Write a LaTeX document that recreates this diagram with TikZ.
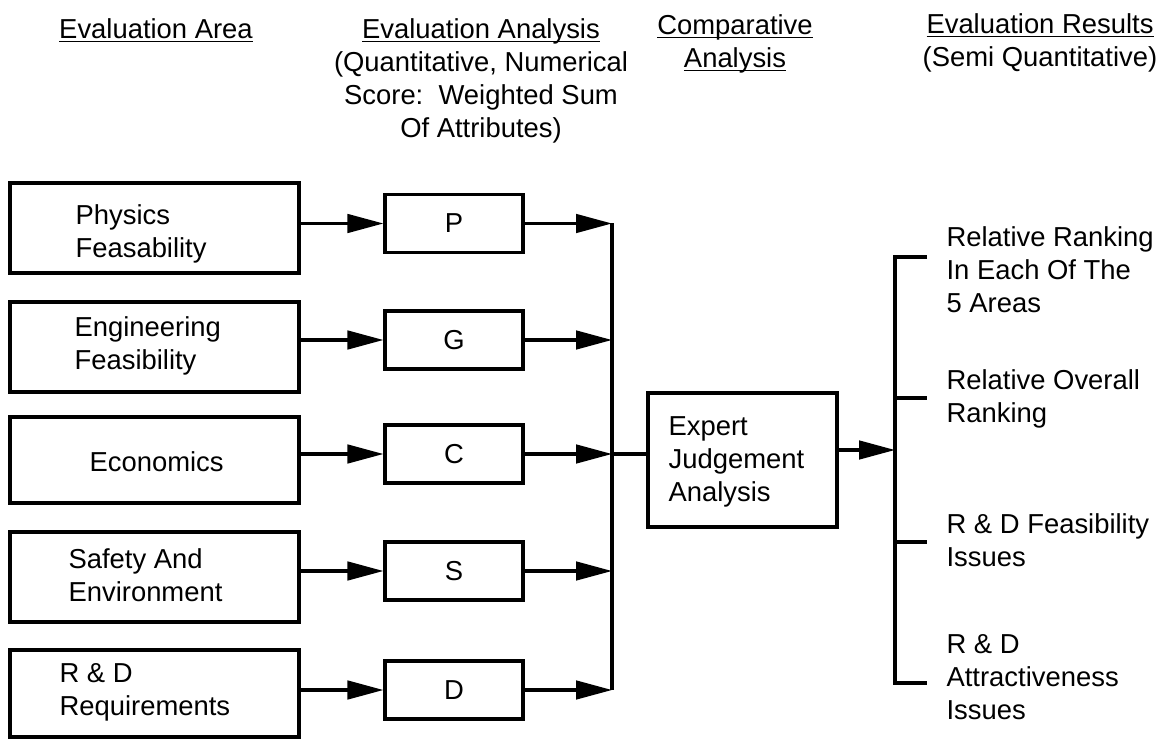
\documentclass[tikz,border=0pt]{standalone}
\usepackage{fontspec}
\setmainfont{Liberation Sans}
\usetikzlibrary{arrows.meta}
\newcommand{\headul}[1]{\underline{\smash{#1}\vphantom{E}}}

\begin{document}
\begin{tikzpicture}[x=0.02cm,y=-0.02cm,line width=1.8pt,
  font=\fontsize{15.6pt}{18.8pt}\selectfont,
  areabox/.style={draw,rectangle,minimum width=5.78cm,minimum height=1.8cm,inner sep=0pt},
  anabox/.style={draw,rectangle,minimum width=2.76cm,minimum height=1.16cm,inner sep=0pt},
  txt/.style={inner sep=0pt,align=left,anchor=north west},
  head/.style={inner sep=0pt,align=center,anchor=north},
  arr/.style={-{Triangle[length=0.72cm,width=0.37cm]}}]
\useasboundingbox (0,0) rectangle (1165,739);

% column headers
\node[head] (hArea) at (156,18) {\headul{Evaluation Area}};
\node[head] (hAnal) at (481,18) {\headul{Evaluation Analysis}\\(Quantitative, Numerical\\Score:\ \ Weighted Sum\\Of Attributes)};
\node[head] (hComp) at (735,14) {\headul{Comparative}\\\headul{Analysis}};
\node[head] (hRes) at (1040,13) {\headul{Evaluation Results}\\(Semi Quantitative)};

% evaluation areas
\node[areabox] (areaP) at (154.5,228) {};
\node[areabox] (areaG) at (154.5,347) {};
\node[areabox,minimum height=1.72cm] (areaC) at (154.5,460) {};
\node[areabox] (areaS) at (154.5,577) {};
\node[areabox,minimum height=1.74cm] (areaD) at (154.5,693.5) {};
\node[txt] (txtP) at (74,203) {Physics\\Feasability};
\node[txt] (txtG) at (73,315) {Engineering\\Feasibility};
\node[txt] (txtC) at (88,450) {Economics};
\node[txt] (txtS) at (67,547) {Safety And\\Environment};
\node[txt] (txtD) at (58,662) {R \& D\\Requirements};

% scores
\node[anabox] (anaP) at (454,223.5) {P};
\node[anabox] (anaG) at (454,340) {G};
\node[anabox] (anaC) at (454,454) {C};
\node[anabox] (anaS) at (454,571) {S};
\node[anabox] (anaD) at (454,690) {D};

\coordinate (barX) at (612,0);
\foreach \k in {P,G,C,S,D}{
  \draw[arr] (ana\k.west -| area\k.east) -- (ana\k.west);
  \draw[arr] (ana\k.east) -- (ana\k.east -| barX);
}
\draw (anaP.east -| barX) -- (anaD.east -| barX);

% comparative analysis
\node[draw,rectangle,minimum width=3.78cm,minimum height=2.68cm,inner sep=0pt] (expert) at (742.5,460) {};
\node[txt] (txtE) at (667,415) {Expert\\Judgement\\Analysis};
\draw (anaC.east -| barX) -- (anaC.east -| expert.west);

% results
\coordinate (resIn) at (895,450);
\draw[arr] (resIn -| expert.east) -- (resIn);
\coordinate (tick1) at (895,257);
\coordinate (tick2) at (895,398);
\coordinate (tick3) at (895,542);
\coordinate (tick4) at (895,683);
\draw (927,257) -- (tick1) -- (tick4) -- (927,683);
\draw (tick2) -- ++(32,0);
\draw (tick3) -- ++(32,0);
\node[txt] (res1) at (945,225) {Relative Ranking\\In Each Of The\\5 Areas};
\node[txt] (res2) at (945,368) {Relative Overall\\Ranking};
\node[txt] (res3) at (945,512) {R \& D Feasibility\\Issues};
\node[txt] (res4) at (945,633) {R \& D\\Attractiveness\\Issues};
\end{tikzpicture}
\end{document}
